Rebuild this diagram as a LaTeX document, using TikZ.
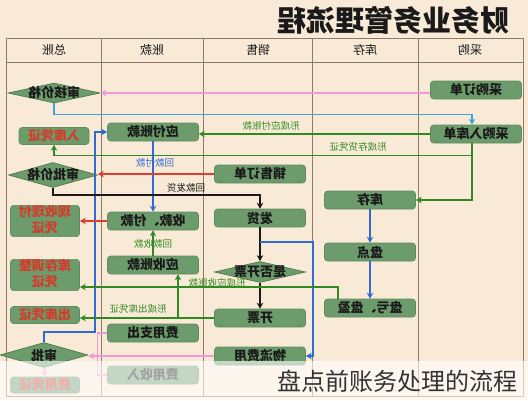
\documentclass[tikz,border=0pt]{standalone}
\usepackage{fontspec}
\usepackage{graphicx}
\setmainfont{Noto Sans CJK SC}
\usetikzlibrary{arrows.meta,shapes.geometric}
\definecolor{paper}{HTML}{F8EAD6}
\definecolor{laneline}{HTML}{8C7B68}
\definecolor{boxfill}{HTML}{6C9B6C}
\definecolor{boxline}{HTML}{5F8C5F}
\definecolor{dialine}{HTML}{4C7A4C}
\definecolor{ink}{HTML}{1A1A1A}
\definecolor{vred}{HTML}{D63A2A}
\definecolor{gcol}{HTML}{2F8A22}
\definecolor{bcol}{HTML}{2E6BD3}
\definecolor{ccol}{HTML}{3AA5DD}
\definecolor{pcol}{HTML}{EE9ADA}
\definecolor{rcol}{HTML}{E43A30}
\definecolor{capgray}{HTML}{333333}
% gespiegelter Text
\newcommand{\mr}[1]{\reflectbox{#1}}
\newcommand{\mrr}[1]{\reflectbox{\begin{tabular}{@{}c@{}}#1\end{tabular}}}

\begin{document}
\begin{tikzpicture}[x=1pt, y=-1pt,
  box/.style={rectangle, rounded corners=3pt, fill=boxfill, draw=boxline, line width=0.6pt, minimum width=91pt, minimum height=18pt, inner sep=0pt, font=\bfseries\fontsize{13}{15}\selectfont, text=ink},
  vbox/.style={box, minimum width=69pt, text=vred},
  dia/.style={diamond, aspect=1, fill=boxfill, draw=dialine, line width=0.7pt, inner sep=0pt, font=\bfseries\fontsize{13}{15}\selectfont, text=ink},
  lane/.style={draw=laneline, line width=0.8pt},
  hd/.style={font=\fontsize{12}{14}\selectfont, text=ink},
  tag/.style={font=\fontsize{9.5}{11}\selectfont, inner sep=0pt},
  tip/.style={-{Stealth[length=6pt, width=6.5pt]}},
  garr/.style={tip, draw=gcol, line width=1.6pt},
  barr/.style={tip, draw=bcol, line width=1.6pt},
  carr/.style={tip, draw=ccol, line width=1.4pt},
  rarr/.style={tip, draw=rcol, line width=1.6pt},
  karr/.style={tip, draw=ink, line width=1.6pt},
  parr/.style={tip, draw=pcol, line width=1.6pt},
  pline/.style={draw=pcol, line width=1.4pt}
]

% ---------- Grund und Bahnen ----------
\fill[paper] (0,0) rectangle (528,400);
\useasboundingbox (0,0) rectangle (528,400);
\node[font=\bfseries\fontsize{29}{31}\selectfont, text=ink] (title) at (393,20) {\mr{财务业务管理流程}};
\draw[lane] (6,38) rectangle (523,396);
\draw[lane] (6,62) -- (523,62);
\foreach \x in {101,203,312,418} \draw[lane] (\x,38) -- (\x,396);
\node[hd] (hzz) at (54,50) {\mr{总账}};
\node[hd] (hzk) at (152,50) {\mr{账款}};
\node[hd] (hxs) at (258,50) {\mr{销售}};
\node[hd] (hkc) at (365,50) {\mr{库存}};
\node[hd] (hcg) at (470,50) {\mr{采购}};

% ---------- 采购 ----------
\node[box] (cgdd) at (476,90) {\mr{采购订单}};
\node[box] (cgrk) at (476,134) {\mr{采购入库单}};

% ---------- 总账 ----------
\node[dia, minimum width=92pt, minimum height=20pt] (shhj) at (54,93) {\makebox[0pt]{\mr{审核价格}}};
\node[vbox, minimum width=70pt, minimum height=17pt] (rkpz) at (54,136) {\mr{入库凭证}};
\node[dia, minimum width=89pt, minimum height=25pt] (spjg) at (53,175) {\makebox[0pt]{\mr{审批价格}}};
\node[vbox, minimum height=28pt] (xsxf) at (45,221) {\mrr{现收现付\\凭证}};
\node[vbox, minimum height=30pt] (kctz) at (45,275) {\mrr{库存调整\\凭证}};
\node[vbox, minimum height=17pt] (ckpz) at (45,315) {\mr{出库凭证}};
\node[dia, minimum width=88pt, minimum height=25pt] (sp) at (44,355) {\makebox[0pt]{\mr{审批}}};
\node[vbox, minimum height=16pt] (fypz) at (45,385) {\mr{费用凭证}};

% ---------- 账款 ----------
\node[box] (yfzk) at (153,132) {\mr{应付账款}};
\node[box] (sfk) at (153,221) {\mr{收款、付款}};
\node[box] (yszk) at (153,265) {\mr{应收账款}};
\node[box] (fyzc) at (153,333) {\mr{费用支出}};
\node[box] (fysr) at (153,375) {\mr{费用收入}};

% ---------- 销售 ----------
\node[box] (xsdd) at (260,174) {\mr{销售订单}};
\node[box] (fh) at (260,218) {\mr{发货}};
\node[dia, minimum width=91pt, minimum height=21pt] (sfkp) at (260,272) {\makebox[0pt]{\mr{是否开票}}};
\node[box] (kp) at (260,318) {\mr{开票}};
\node[box] (wlfy) at (260,356) {\mr{物流费用}};

% ---------- 库存 ----------
\node[box] (kc) at (370,200) {\mr{库存}};
\node[box] (pd) at (370,252) {\mr{盘点}};
\node[box] (pkpy) at (370,308) {\mr{盘亏、盘盈}};

% ---------- Verbindungen ----------
\draw[parr] (cgdd.west |- shhj.east) -- (shhj.east);
\draw[carr] (shhj.south) -- ++(0,11) -| ([xshift=-4pt]cgrk.north);
\draw[garr] (cgrk.west) -- (cgrk.west -| yfzk.east);
\draw[garr] ([xshift=-4pt]cgrk.south) |- (kc.east);
\draw[garr] ([xshift=-4pt]cgrk.south) -- ++(0,12) -| (rkpz.south);
\draw[barr] (yfzk.south) -- (sfk.north);
\draw[barr] (sp.north) -- ++(0,-10) -- ++(51,0) |- (yfzk.west);
\draw[rarr] (xsdd.west) -- (xsdd.west -| spjg.east);
\draw[karr] (spjg.south) -- ++(0,7) -| (fh.north);
\draw[rarr] (sfk.west) -- (sfk.west -| xsxf.east);
\draw[garr] (yszk.north) -- (sfk.south);
\draw[karr] (fh.south) -- (sfkp.north);
\draw[karr] (sfkp.south) -- (kp.north);
\path (fh.south) -- (sfkp.north) coordinate[pos=0.43] (fz);
\draw[barr] (fz) -- ++(53,0) |- (wlfy.east);
\draw[garr] ([xshift=-32pt]pkpy.north) |- ([yshift=-12pt]kctz.east);
\draw[garr] (kp.west) -- (kp.west -| ckpz.east);
\coordinate (ysk) at ([xshift=25pt]yszk.south);
\draw[garr] (ysk |- kp.west) -- (ysk);
\draw[barr] (kc.south) -- (pd.north);
\draw[barr] (pd.south) -- (pkpy.north);
\draw[parr] (wlfy.west) -- (wlfy.west -| sp.east);
\draw[pline] (fyzc.west) -- ++(-10,0) |- (fysr.west);
\draw[parr] (sp.south) -- (fypz.north);

% ---------- Beschriftungen ----------
\node[tag, text=gcol] (t1) at (271,126) {\mr{形成应付账款}};
\node[tag, text=gcol] (t2) at (358,147) {\mr{形成存货凭证}};
\node[tag, text=bcol] (t3) at (155,163) {\mr{回款付款}};
\node[tag, text=ink] (t4) at (186,188) {\mr{回款发货}};
\node[tag, text=gcol] (t5) at (153,244) {\mr{回款收款}};
\node[tag, text=gcol] (t6) at (217,283) {\mr{形成应收账款}};
\node[tag, text=gcol] (t7) at (138,309) {\mr{形成出库凭证}};

% ---------- Bildunterschrift ----------
\fill[white, opacity=0.6] (0,361) rectangle (528,400);
\node[font=\fontsize{24}{26}\selectfont, text=capgray] (cap) at (397,381) {盘点前账务处理的流程};

\end{tikzpicture}
\end{document}
